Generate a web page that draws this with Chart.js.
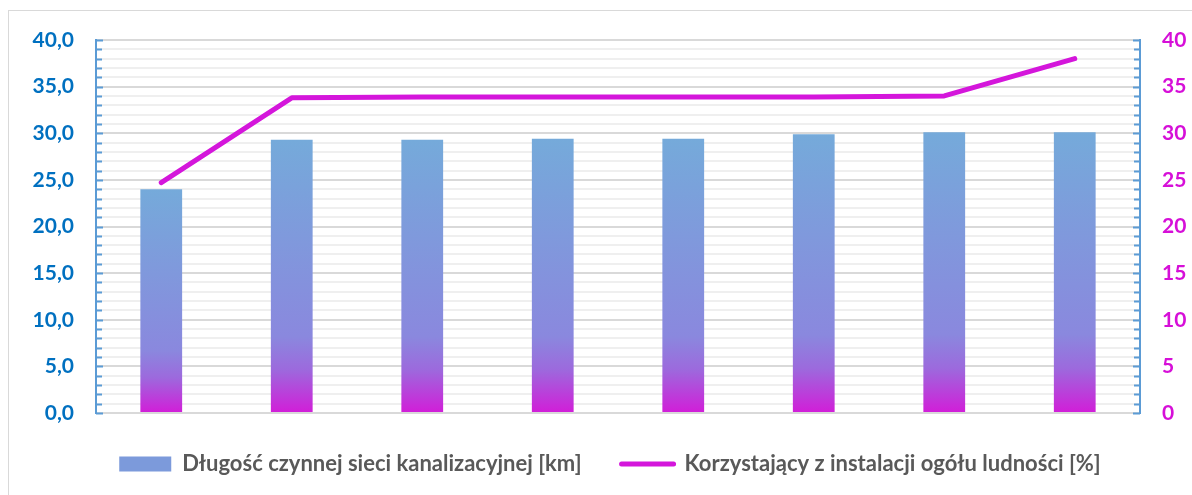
<!DOCTYPE html>
<html>
<head>
<meta charset="utf-8">
<script src="https://cdn.jsdelivr.net/npm/chart.js@4"></script>
<style>
  html, body { margin: 0; padding: 0; background: #fff; }
  #wrap { position: relative; width: 1192px; height: 495px; }
  #frame { position: absolute; left: 8px; top: 10px; width: 1200px; height: 500px; border: 1px solid #D9D9D9; box-sizing: border-box; pointer-events: none; }
</style>
</head>
<body>
<div id="wrap">
  <div id="frame"></div>
  <canvas id="chart" width="1192" height="495"></canvas>
</div>
<script>
var categories = ['1', '2', '3', '4', '5', '6', '7', '8'];
var networkKm = [24.0, 29.3, 29.3, 29.4, 29.4, 29.9, 30.1, 30.1];
var usersPct = [24.7, 33.8, 33.9, 33.9, 33.9, 33.9, 34.0, 38.0];
var leftTicks = ['0,0', '5,0', '10,0', '15,0', '20,0', '25,0', '30,0', '35,0', '40,0'];
var rightTicks = ['0', '5', '10', '15', '20', '25', '30', '35', '40'];
var seriesNames = ['Długość czynnej sieci kanalizacyjnej [km]', 'Korzystający z instalacji ogółu ludności [%]'];

var blueAxis = '#5B9BD5';
var magenta = '#D416DB';
var fontFamily = "Lato, 'Open Sans', sans-serif";

function barGradient(ctx, top, bottom) {
    var g = ctx.createLinearGradient(0, top, 0, bottom);
    g.addColorStop(0, '#75AADA');
    g.addColorStop(0.72, '#8A88DE');
    g.addColorStop(0.84, '#9C6ADD');
    g.addColorStop(1, '#D21DD8');
    return g;
}

// short tick marks drawn inside the plot along both axis lines
var innerTicks = {
    id: 'innerTicks',
    afterLayout: function(chart) {
        // legend sits a bit right of centre in the original
        chart.legend.left += 14;
        chart.legend.right += 14;
    },
    afterDatasetsDraw: function(chart) {
        var c = chart.ctx;
        var yl = chart.scales.y, yr = chart.scales.y2;
        c.save();
        c.strokeStyle = blueAxis;
        c.lineWidth = 2;
        for (var v = 0; v <= 40; v++) {
            var py = Math.round(yl.getPixelForValue(v)) + 0.5;
            var len = (v % 5 === 0) ? 7 : 6;
            c.beginPath();
            c.moveTo(yl.right, py); c.lineTo(yl.right + len, py);
            c.moveTo(yr.left, py); c.lineTo(yr.left - len, py);
            c.stroke();
        }
        c.restore();
    }
};

var ctx = document.getElementById('chart').getContext('2d');
var chart = new Chart(ctx, {
    data: {
        labels: categories,
        datasets: [{
            type: 'line',
            label: seriesNames[1],
            data: usersPct,
            yAxisID: 'y2',
            borderColor: magenta,
            backgroundColor: magenta,
            borderWidth: 5,
            borderCapStyle: 'round',
            borderJoinStyle: 'round',
            pointRadius: 0,
            tension: 0,
            order: 0
        }, {
            type: 'bar',
            label: seriesNames[0],
            data: networkKm,
            yAxisID: 'y',
            backgroundColor: function(context) {
                var chart = context.chart;
                if (!chart.chartArea) return '#75AADA';
                var y = chart.scales.y;
                var v = context.raw || 0;
                return barGradient(chart.ctx, y.getPixelForValue(v), y.getPixelForValue(0));
            },
            barPercentage: 0.32,
            categoryPercentage: 1,
            order: 1
        }]
    },
    options: {
        responsive: false,
        animation: false,
        layout: { padding: { left: 0, right: 0, top: 40, bottom: 10 } },
        scales: {
            x: {
                display: false
            },
            y: {
                position: 'left',
                min: 0,
                max: 40,
                afterFit: function(scale) { scale.width = 96; },
                ticks: {
                    stepSize: 1,
                    autoSkip: false,
                    padding: 22,
                    color: '#0070C0',
                    font: { family: fontFamily, size: 21, weight: 'bold' },
                    callback: function(value) {
                        return value % 5 === 0 ? leftTicks[value / 5] : '';
                    }
                },
                grid: {
                    drawTicks: false,
                    color: function(c) {
                        return c.tick.value % 5 === 0 ? '#D9D9D9' : '#EFEFEF';
                    },
                    lineWidth: 2
                },
                border: { display: true, color: blueAxis, width: 2 }
            },
            y2: {
                position: 'right',
                min: 0,
                max: 40,
                afterFit: function(scale) { scale.width = 52; },
                ticks: {
                    stepSize: 1,
                    autoSkip: false,
                    padding: 22,
                    color: '#D60FD8',
                    font: { family: fontFamily, size: 21, weight: 'bold' },
                    callback: function(value) {
                        return value % 5 === 0 ? rightTicks[value / 5] : '';
                    }
                },
                grid: { drawOnChartArea: false, drawTicks: false },
                border: { display: true, color: blueAxis, width: 2 }
            }
        },
        plugins: {
            tooltip: { enabled: false },
            legend: {
                position: 'bottom',
                labels: {
                    usePointStyle: true,
                    pointStyleWidth: 52,
                    boxHeight: 15,
                    padding: 40,
                    color: '#595959',
                    font: { family: fontFamily, size: 22, weight: 'bold' },
                    generateLabels: function(chart) {
                        return [{
                            text: seriesNames[0],
                            fillStyle: '#7C9ADB',
                            strokeStyle: 'rgba(0,0,0,0)',
                            lineWidth: 0,
                            pointStyle: 'rect',
                            datasetIndex: 1,
                            fontColor: '#595959'
                        }, {
                            text: seriesNames[1],
                            fillStyle: magenta,
                            strokeStyle: magenta,
                            lineWidth: 5,
                            lineCap: 'round',
                            pointStyle: 'line',
                            datasetIndex: 0,
                            fontColor: '#595959'
                        }];
                    }
                }
            }
        }
    },
    plugins: [innerTicks]
});
</script>
</body>
</html>
